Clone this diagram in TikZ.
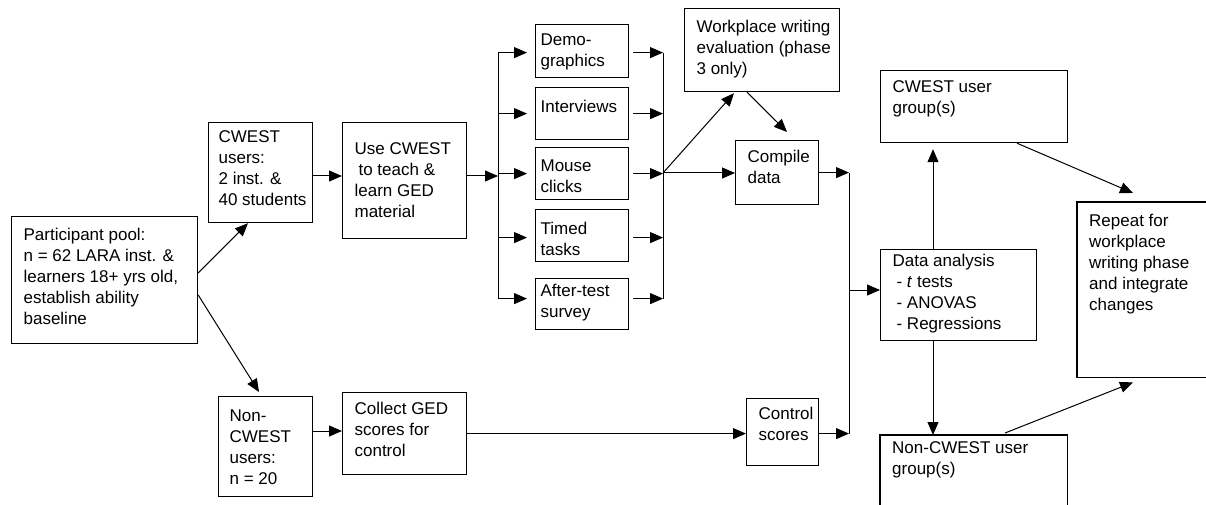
\documentclass[tikz,border=0pt]{standalone}
\usepackage{fontspec}
\setmainfont{Liberation Sans}
\usetikzlibrary{arrows.meta,calc}
\newcommand\bt[5]{\parbox[c][#2pt][t]{#1pt}{\vspace*{#3pt}\leftskip=#4pt\rightskip=0pt plus 1fil\parindent=0pt\parfillskip=0pt plus 1fil #5\par}}
\begin{document}
\begin{tikzpicture}[x=1pt,y=-1pt,
  box/.style={draw,line width=1.2pt,inner sep=0pt,anchor=north west,font=\fontsize{17}{21}\selectfont},
  obox/.style={inner sep=0pt,anchor=north west,font=\fontsize{17}{21}\selectfont},
  bline/.style={line width=1.2pt},
  ln/.style={line width=1pt},
  arr/.style={line width=1pt,-{Triangle[length=13pt,width=11pt]}},
  gapin/.style={shorten >=8pt},
  gapout/.style={shorten <=4pt}]
\useasboundingbox (0,0) rectangle (1206,505);
% boxes
\node[box] (pp) at (11,216) {\bt{186}{127}{12}{12}{Participant pool:\\n = 62 LARA inst. \&\\learners 18+ yrs old,\\establish ability\\baseline}};
\node[box] (cu) at (208,122) {\bt{104}{100}{8}{10}{CWEST\\users:\\2 inst. \&\\40 students}};
\node[box] (use) at (342,122) {\bt{124}{116}{20}{12}{Use CWEST\\\hspace*{4pt}to teach \&\\learn GED\\material}};
\node[box] (ncu) at (218,396) {\bt{94}{100}{13}{11}{Non-\\CWEST\\users:\\n = 20}};
\node[box] (col) at (342,392) {\bt{124}{82}{10}{12}{Collect GED\\scores for\\control}};
\node[box] (demo) at (535,24) {\bt{93}{53}{9}{5}{Demo-\\graphics}};
\node[box] (int) at (535,87) {\bt{93}{52}{13}{5}{Interviews}};
\node[box] (mou) at (535,147) {\bt{93}{52}{12}{5}{Mouse\\clicks}};
\node[box] (tim) at (535,209) {\bt{93}{52}{13}{5}{Timed\\tasks}};
\node[box] (aft) at (535,278) {\bt{93}{51}{6}{5}{After-test\\survey}};
\node[box] (wp) at (684,8) {\bt{155}{83}{12}{12}{Workplace writing\\evaluation (phase\\3 only)}};
\node[box] (cmp) at (735,140) {\bt{83}{64}{10}{12}{Compile\\data}};
\node[box] (ctl) at (746,398) {\bt{72}{67}{9}{12}{Control\\scores}};
\node[box] (cug) at (880,70) {\bt{187}{72}{10}{12}{CWEST user\\group(s)}};
\node[box] (da) at (880,249) {\bt{156}{91}{5}{12}{Data analysis\\\hspace*{4pt}- \textit{t} tests\\\hspace*{4pt}- ANOVAS\\\hspace*{4pt}- Regressions}};
\node[obox] (rep) at (1077,202) {\bt{129}{175}{12}{12}{Repeat for\\workplace\\writing phase\\and integrate\\changes}};
\draw[bline] (rep.north east) -- (rep.north west) -- (rep.south west) -- (rep.south east);
\node[obox] (ncg) at (880,435) {\bt{187}{70}{6}{12}{Non-CWEST user\\group(s)}};
\draw[bline] (ncg.south west) -- (ncg.north west) -- (ncg.north east) -- (ncg.south east);
% bus coordinates
\coordinate (b1m) at (498,176);
\coordinate (b2m) at (663,173);
\coordinate (b3m) at (849,290);
% connectors
\draw[arr] ($(pp.north east)+(0,57)$) -- ($(cu.south west)+(40,0)$);
\draw[arr] ($(pp.north east)+(0,79)$) -- ($(ncu.north west)+(41,-4)$);
\draw[arr] (cu.east |- b1m) -- (use.west |- b1m);
\draw[arr] ($(ncu.north east)+(0,35)$) -- ($(col.north west)+(0,39)$);
\draw[arr] (use.east |- b1m) -- (b1m);
\draw[ln] ($(b1m |- demo.west)+(0,1.5)$) -- ($(b1m |- aft.west)+(0,-5.5)$);
\draw[arr,gapin] ($(b1m |- demo.west)+(0,1.5)$) -- ($(demo.west)+(0,1.5)$);
\draw[arr,gapin] (b1m |- int.west) -- (int.west);
\draw[arr,gapin] (b1m |- mou.west) -- (mou.west);
\draw[arr,gapin] ($(b1m |- tim.west)+(0,2)$) -- ($(tim.west)+(0,2)$);
\draw[arr,gapin] ($(b1m |- aft.west)+(0,-5.5)$) -- ($(aft.west)+(0,-5.5)$);
\draw[arr,gapout] ($(demo.east)+(0,1.5)$) -- ($(b2m |- demo.east)+(0,1.5)$);
\draw[arr,gapout] (int.east) -- (b2m |- int.east);
\draw[arr,gapout] (mou.east) -- (b2m |- mou.east);
\draw[arr,gapout] ($(tim.east)+(0,2)$) -- ($(b2m |- tim.east)+(0,2)$);
\draw[arr,gapout] ($(aft.east)+(0,-5.5)$) -- ($(b2m |- aft.east)+(0,-5.5)$);
\draw[ln] ($(b2m |- demo.east)+(0,1.5)$) -- ($(b2m |- aft.east)+(0,-5.5)$);
\draw[arr] (b2m) -- (cmp.west |- b2m);
\draw[arr] (b2m) -- ($(wp.south west)+(50,1)$);
\draw[arr] ($(wp.south west)+(63,0)$) -- ($(cmp.north west)+(52,-8)$);
\draw[arr] (col.east) -- (ctl.west |- col.east);
\draw[arr] (cmp.east) -- (b3m |- cmp.east);
\draw[arr] (ctl.east |- col.east) -- (b3m |- col.east);
\draw[ln] (b3m |- cmp.east) -- (b3m |- col.east);
\draw[arr] (b3m) -- (da.west |- b3m);
\draw[arr] ($(da.north west)+(53,0)$) -- ($(cug.south west)+(53,6)$);
\draw[arr] ($(da.south west)+(53,0)$) -- ($(ncg.north west)+(53,0)$);
\draw[arr] ($(cug.south west)+(137,0)$) -- ($(rep.north west)+(56,-9)$);
\draw[arr] ($(ncg.north west)+(125,-2)$) -- ($(rep.south west)+(56,5)$);
\end{tikzpicture}
\end{document}
